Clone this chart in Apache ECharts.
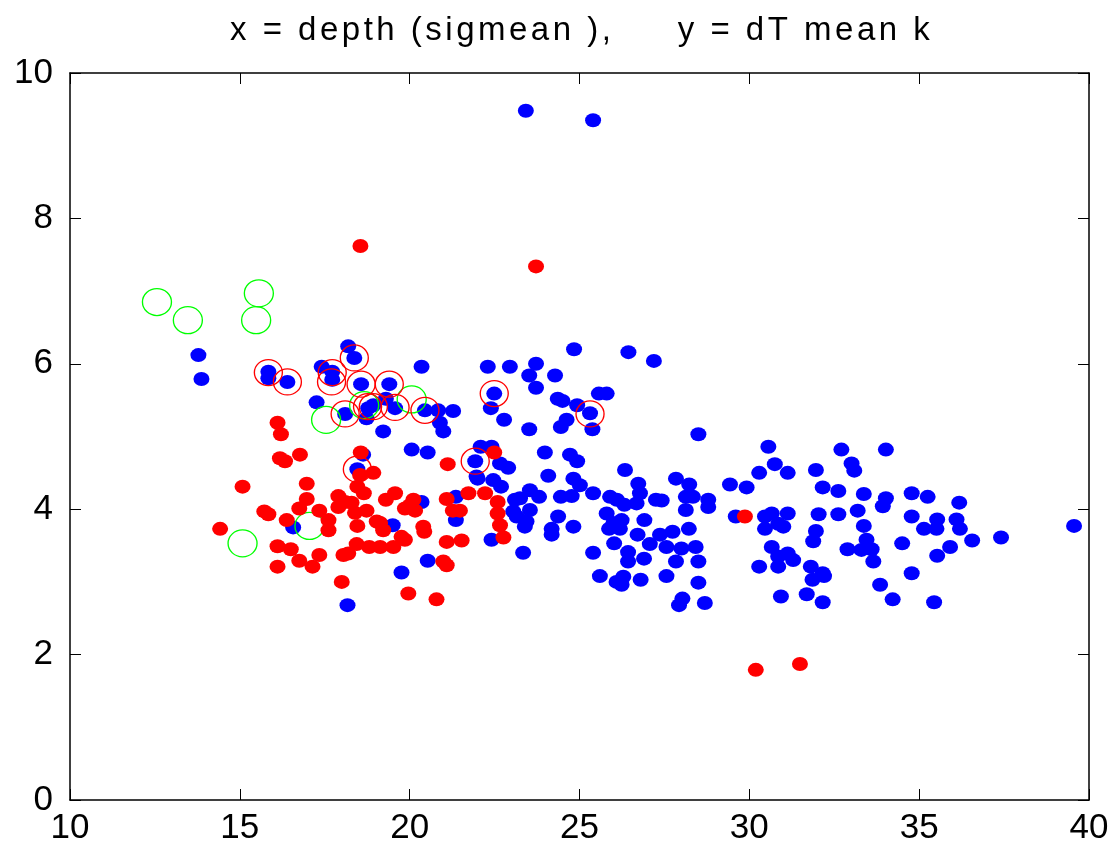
<!DOCTYPE html>
<html><head><meta charset="utf-8">
<script src="https://cdn.jsdelivr.net/npm/echarts@6/dist/echarts.min.js"></script>
<style>html,body{margin:0;padding:0;background:#fff}#c{width:1113px;height:848px}</style>
</head><body><div id="c"></div>
<script>
const titleText = 'x = depth (sigmean ),     y = dT mean k';
const xRange = [10, 40, 5];
const yRange = [0, 10, 2];

const bluePts = [
[13.78,6.12],[13.87,5.79],[15.84,5.89],[15.84,5.80],[16.40,5.75],[18.19,6.24],[18.37,6.08],[17.41,5.96],[17.72,5.89],[17.72,5.78],
[18.57,5.72],[19.40,5.72],[20.35,5.96],[17.26,5.47],[18.10,5.31],[18.73,5.25],[18.78,5.39],[18.93,5.43],[19.30,5.52],[19.57,5.39],
[19.22,5.07],[20.45,5.36],[20.84,5.36],[20.89,5.19],[20.99,5.07],[20.06,4.82],[20.53,4.78],[18.63,4.75],[18.46,4.55],[21.36,4.17],
[21.36,3.85],[20.35,4.10],[19.50,3.78],[16.57,3.75],[20.53,3.29],[19.76,3.13],[18.17,2.68],[21.97,4.45],[23.42,9.48],[25.40,9.35],
[24.84,6.20],[26.44,6.16],[27.19,6.04],[22.30,5.96],[22.95,5.96],[23.72,6.00],[23.52,5.84],[24.28,5.84],[23.72,5.67],[22.49,5.59],
[22.39,5.39],[22.78,5.23],[23.52,5.10],[24.36,5.52],[24.50,5.49],[24.93,5.43],[25.57,5.59],[25.80,5.59],[25.31,5.32],[24.62,5.23],
[24.45,5.13],[25.38,5.10],[28.50,5.03],[21.28,5.35],[23.98,4.78],[24.72,4.75],[24.93,4.66],[26.34,4.54],[22.09,4.86],[22.41,4.86],
[21.93,4.66],[22.66,4.63],[22.90,4.57],[22.00,4.42],[22.46,4.40],[22.69,4.31],[24.08,4.46],[24.82,4.42],[25.01,4.33],[25.40,4.22],
[25.90,4.17],[26.73,4.35],[27.84,4.42],[28.23,4.34],[29.43,4.34],[29.92,4.30],[23.25,4.15],[23.54,4.26],[23.81,4.17],[24.45,4.17],
[24.77,4.18],[23.05,3.97],[23.54,3.99],[24.37,3.90],[25.80,3.94],[26.10,4.13],[26.32,4.06],[26.68,4.08],[26.78,4.22],[27.25,4.13],
[27.42,4.12],[28.13,4.17],[28.13,3.99],[28.79,4.13],[28.79,4.03],[26.91,3.85],[26.00,3.81],[24.82,3.76],[24.18,3.73],[29.60,3.90],
[30.56,4.86],[30.75,4.62],[31.13,4.50],[30.29,4.50],[23.10,4.13],[28.34,4.17],[30.46,3.90],[30.66,3.94],[31.13,3.94],[30.85,3.80],
[30.46,3.73],[31.00,3.76],[23.15,3.90],[23.44,3.83],[23.39,3.76],[24.18,3.65],[26.24,3.85],[25.87,3.73],[26.19,3.73],[26.71,3.65],
[27.37,3.65],[27.74,3.69],[28.22,3.73],[26.02,3.53],[26.43,3.41],[27.07,3.52],[27.56,3.48],[28.00,3.46],[28.42,3.48],[26.90,3.32],
[26.43,3.28],[27.84,3.28],[28.50,3.28],[25.40,3.40],[23.34,3.40],[22.41,3.58],[25.60,3.08],[26.09,3.00],[26.29,3.07],[26.24,2.96],
[26.80,3.03],[27.56,3.08],[28.50,2.99],[28.03,2.77],[27.93,2.68],[28.69,2.71],[30.93,2.80],[30.66,3.48],[30.85,3.35],[31.13,3.39],
[31.29,3.30],[30.29,3.21],[30.85,3.21],[32.71,4.82],[34.02,4.82],[31.96,4.54],[33.01,4.63],[33.09,4.53],[32.16,4.30],[32.62,4.25],
[33.37,4.21],[34.02,4.15],[33.93,4.04],[34.78,4.22],[35.25,4.17],[36.18,4.09],[32.04,3.93],[32.62,3.93],[33.19,3.98],[33.37,3.77],
[31.96,3.70],[31.88,3.56],[33.45,3.58],[33.60,3.45],[32.89,3.45],[33.30,3.44],[33.65,3.28],[34.50,3.53],[34.78,3.90],[35.53,3.86],
[35.14,3.73],[35.51,3.73],[36.10,3.86],[36.20,3.73],[36.56,3.57],[35.91,3.48],[35.53,3.36],[37.41,3.61],[39.56,3.77],[31.81,3.21],
[31.86,3.03],[32.20,3.08],[32.16,3.12],[34.78,3.12],[33.85,2.96],[31.69,2.83],[32.16,2.72],[34.22,2.76],[35.44,2.72]
];

const redPts = [
[16.11,5.19],[16.21,5.03],[16.18,4.70],[16.33,4.66],[16.77,4.75],[15.08,4.31],[16.97,4.35],[18.56,4.78],[18.93,4.50],[18.54,4.47],
[21.12,4.62],[16.97,4.14],[16.75,4.01],[15.72,3.97],[15.84,3.93],[14.42,3.73],[16.38,3.85],[17.34,3.98],[17.61,3.85],[17.90,4.18],
[17.90,4.03],[18.29,4.09],[18.39,3.95],[18.73,3.98],[18.46,4.31],[18.65,4.22],[17.61,3.71],[18.46,3.77],[19.03,3.83],[19.22,3.71],
[19.30,4.13],[19.57,4.22],[19.86,4.01],[20.11,4.13],[20.16,3.98],[19.76,3.62],[19.86,3.58],[20.43,3.69],[18.44,3.52],[18.81,3.48],
[19.13,3.48],[19.52,3.48],[18.19,3.39],[18.05,3.37],[16.11,3.49],[16.50,3.45],[16.75,3.29],[17.34,3.37],[17.14,3.21],[16.11,3.21],
[21.09,3.55],[21.53,3.57],[20.99,3.28],[21.09,3.23],[21.09,4.14],[21.27,3.98],[21.48,3.98],[21.73,4.22],[18.00,3.00],[19.96,2.84],
[20.79,2.76],[18.10,4.10],[19.13,3.81],[23.72,7.34],[22.49,4.78],[22.22,4.22],[22.59,4.10],[22.59,3.94],[22.66,3.78],[20.40,3.76],
[29.87,3.90],[22.76,3.61],[30.19,1.79],[31.49,1.87],[18.55,7.62],[20.00,4.05]
];

const redRings = [
[15.84,5.88],[16.40,5.75],[18.37,6.08],[17.72,5.88],[17.70,5.75],[18.57,5.72],[19.40,5.72],[18.10,5.31],[18.76,5.41],[18.93,5.41],
[19.57,5.40],[20.45,5.36],[18.46,4.55],[22.49,5.59],[25.31,5.31],[21.93,4.66]
];

const greenRings = [
[12.56,6.85],[13.47,6.60],[15.56,6.97],[15.48,6.60],[17.54,5.23],[18.66,5.43],[20.06,5.51],[15.08,3.53],[17.05,3.77]
];

const FONT = "'Liberation Sans',Arial,Helvetica,sans-serif";
const ELLIPSE = 'path://M-1,0A1,1,0,1,0,1,0A1,1,0,1,0,-1,0Z';
const spacingOK = (typeof CanvasRenderingContext2D !== 'undefined') && ('letterSpacing' in CanvasRenderingContext2D.prototype);

function axisCommon() {
  return {
    axisLine: {show: true, onZero: false, lineStyle: {color: '#000', width: 1.5}},
    axisTick: {show: true, inside: true, length: 11, lineStyle: {color: '#000', width: 1}},
    axisLabel: {show: false},
    splitLine: {show: false}
  };
}
const labelStyle = {show: true, color: '#000', fontSize: 35, fontFamily: FONT};

const chart = echarts.init(document.getElementById('c'), null, {renderer: 'canvas'});
chart.setOption({
  animation: false,
  backgroundColor: '#fff',
  title: spacingOK ? {
    text: titleText, left: 225, top: 9, zlevel: 1,
    textStyle: {fontSize: 33, fontWeight: 'normal', color: '#000', fontFamily: FONT}
  } : {
    text: titleText.replace('),     y', '),        y'), left: 225, top: 7,
    textStyle: {fontSize: 35, fontWeight: 'normal', color: '#000', fontFamily: FONT}
  },
  grid: {left: 70, right: 24, top: 73, bottom: 48, containLabel: false},
  xAxis: [
    Object.assign({type: 'value', position: 'bottom', min: xRange[0], max: xRange[1], interval: xRange[2]}, axisCommon(), {axisLabel: Object.assign({margin: 11}, labelStyle)}),
    Object.assign({type: 'value', position: 'top', min: xRange[0], max: xRange[1], interval: xRange[2]}, axisCommon())
  ],
  yAxis: [
    Object.assign({type: 'value', position: 'left', min: yRange[0], max: yRange[1], interval: yRange[2]}, axisCommon(), {axisLabel: Object.assign({margin: 17}, labelStyle)}),
    Object.assign({type: 'value', position: 'right', min: yRange[0], max: yRange[1], interval: yRange[2]}, axisCommon())
  ],
  series: [
    {type: 'scatter', data: bluePts, symbol: ELLIPSE, symbolSize: [16, 14], itemStyle: {color: '#0000ff', opacity: 1}, silent: true, z: 2},
    {type: 'scatter', data: greenRings, symbol: ELLIPSE, symbolSize: [29, 27], itemStyle: {color: 'rgba(0,0,0,0)', borderColor: '#00ff00', borderWidth: 1.3, opacity: 1}, silent: true, z: 3},
    {type: 'scatter', data: redPts, symbol: ELLIPSE, symbolSize: [16, 14], itemStyle: {color: '#ff0000', opacity: 1}, silent: true, z: 4},
    {type: 'scatter', data: redRings, symbol: ELLIPSE, symbolSize: [28, 26], itemStyle: {color: 'rgba(0,0,0,0)', borderColor: '#ff0000', borderWidth: 1.3, opacity: 1}, silent: true, z: 5}
  ]
});
// The reference title is letter-spaced; apply spacing on the title's own canvas layer.
if (spacingOK) {
  try {
    const zr = chart.getZr();
    const layer = zr.painter.getLayer(1);
    if (layer && layer.ctx) {
      layer.ctx.letterSpacing = '3.5px';
      zr.painter.refresh(true);
    }
  } catch (e) {}
}
</script></body></html>
